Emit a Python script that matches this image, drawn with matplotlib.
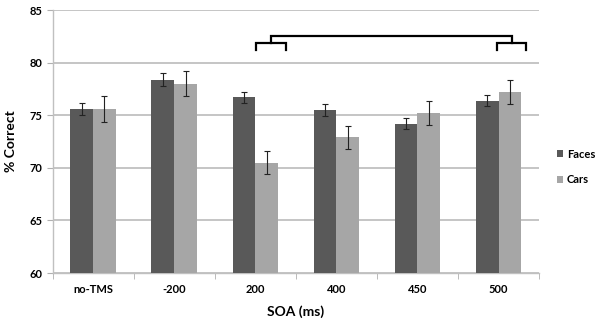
import numpy as np
import matplotlib.pyplot as plt

# --- Data ---
categories = ['no-TMS', '-200', '200', '400', '450', '500']
faces = [75.6, 78.4, 76.7, 75.5, 74.2, 76.4]
faces_err = [0.6, 0.6, 0.55, 0.6, 0.55, 0.55]
cars = [75.6, 78.0, 70.5, 72.9, 75.2, 77.2]
cars_err = [1.2, 1.2, 1.1, 1.1, 1.15, 1.15]
y_ticks = [60, 65, 70, 75, 80, 85]

# bracket geometry (category index, left/right offsets, heights)
bracket_left = 2
bracket_right = 5

plt.rcParams['font.family'] = ['Lato', 'DejaVu Sans']

fig = plt.figure(figsize=(6.0, 3.27), dpi=100)
ax = fig.add_axes([0.0875, 0.165, 0.811, 0.804])

x = np.arange(len(categories))
w = 0.28
ax.bar(x - w / 2, faces, w, color='#595959', label='Faces', zorder=3)
ax.bar(x + w / 2, cars, w, color='#a6a6a6', label='Cars', zorder=3)
ax.errorbar(x - w / 2, faces, yerr=faces_err, fmt='none', ecolor='#222222',
            elinewidth=0.8, capsize=2.5, capthick=0.8, zorder=4)
ax.errorbar(x + w / 2, cars, yerr=cars_err, fmt='none', ecolor='#222222',
            elinewidth=0.8, capsize=2.5, capthick=0.8, zorder=4)

ax.set_ylim(60, 85)
ax.set_xlim(-0.5, len(categories) - 0.5)
ax.set_yticks(y_ticks)
ax.yaxis.grid(True, color='#c0c0c0', linewidth=1.3, zorder=0)
ax.set_axisbelow(True)

# x ticks: labels centered, tick marks between categories
ax.set_xticks(x)
ax.set_xticklabels(categories, fontsize=8, fontweight='bold')
ax.tick_params(axis='x', length=0, pad=8)
ax.set_xticks(np.arange(-0.5, len(categories)), minor=True)
ax.tick_params(axis='x', which='minor', length=4, color='#b0b0b0', direction='out')
ax.tick_params(axis='y', length=4, color='#b0b0b0', labelsize=8, pad=3)
for lbl in ax.get_yticklabels():
    lbl.set_fontweight('bold')

for s in ['top', 'right']:
    ax.spines[s].set_visible(False)
ax.spines['left'].set_color('#c0c0c0')
ax.spines['bottom'].set_color('#c0c0c0')
ax.spines['left'].set_linewidth(1.0)
ax.spines['bottom'].set_linewidth(1.0)

ax.set_xlabel('SOA (ms)', fontsize=10, fontweight='bold', labelpad=7)
ax.set_ylabel('% Correct', fontsize=10, fontweight='bold', labelpad=9)

# significance brackets
lw = 1.6
y_low, y_mid, y_top = 81.2, 81.85, 82.55
for c, (l, r) in [(bracket_left, (0.01, 0.38)), (bracket_right, (-0.02, 0.34))]:
    ax.plot([c + l, c + l, c + r, c + r], [y_low, y_mid, y_mid, y_low],
            color='black', lw=lw, solid_joinstyle='miter', clip_on=False)
riser_l = bracket_left + 0.195
riser_r = bracket_right + 0.165
ax.plot([riser_l, riser_l, riser_r, riser_r], [y_mid, y_top, y_top, y_mid],
        color='black', lw=lw, solid_joinstyle='miter', clip_on=False)

leg = fig.legend(loc='center left', bbox_to_anchor=(0.928, 0.49), frameon=False,
                 borderpad=0, borderaxespad=0,
                 handlelength=0.6, handleheight=0.6, handletextpad=0.3,
                 labelspacing=1.3, prop={'size': 8, 'weight': 'bold'})

fig.savefig('out.png', dpi=100)
